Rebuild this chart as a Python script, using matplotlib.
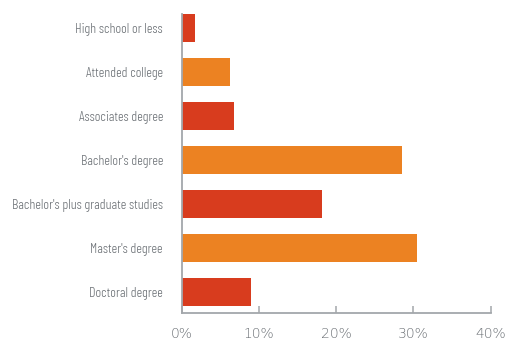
import matplotlib
matplotlib.use("Agg")
import matplotlib.pyplot as plt
from matplotlib.ticker import FuncFormatter

# data
categories = [
    "High school or less",
    "Attended college",
    "Associates degree",
    "Bachelor's degree",
    "Bachelor's plus graduate studies",
    "Master's degree",
    "Doctoral degree",
]
values = [1.7, 6.3, 6.8, 28.5, 18.2, 30.4, 9.0]

RED = "#d83c1e"
ORANGE = "#ec8222"
AXIS_GRAY = "#a3a7ab"
TEXT_GRAY = "#6b7075"

colors = [RED if i % 2 == 0 else ORANGE for i in range(len(categories))]

fig = plt.figure(figsize=(5.09, 3.40), dpi=100)
ax = fig.add_axes([0.357, 0.0794, 0.607, 0.8794])

ypos = list(range(len(categories)))
ax.barh(ypos, values, height=0.636, color=colors)

ax.set_xlim(0, 40)
ax.set_ylim(6.477, -0.318)

ax.set_yticks(ypos)
ax.set_yticklabels(categories, fontsize=10.1, family="Barlow Condensed",
                   fontweight=300, color=TEXT_GRAY)
ax.tick_params(axis="y", length=0, pad=13.5)

ax.set_xticks([0, 10, 20, 30, 40])
ax.xaxis.set_major_formatter(FuncFormatter(lambda v, _: f"{v:.0f}%"))
ax.tick_params(axis="x", direction="in", length=5, width=1.1, color=AXIS_GRAY,
               labelsize=10, labelcolor=TEXT_GRAY, pad=10)
for lbl in ax.get_xticklabels():
    lbl.set_family("DejaVu Sans")
    lbl.set_fontweight("light")

for side in ("top", "right"):
    ax.spines[side].set_visible(False)
for side in ("left", "bottom"):
    ax.spines[side].set_color(AXIS_GRAY)
    ax.spines[side].set_linewidth(1.3)

fig.savefig("out.png", dpi=100)
